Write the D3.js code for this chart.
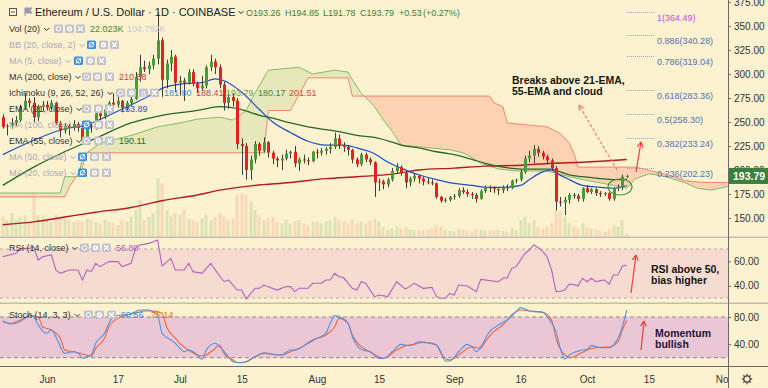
<!DOCTYPE html>
<html>
<head>
<meta charset="utf-8">
<script src="https://cdnjs.cloudflare.com/ajax/libs/d3/7.8.5/d3.min.js"></script>
<style>
  html, body { margin: 0; padding: 0; background: #fdf2cf; }
  svg { display: block; font-family: "Liberation Sans", Arial, sans-serif; }
</style>
</head>
<body>
<div id="chart"></div>
<script>
// ---- data ----
const startDate = '2019-05-22';

// daily candles [open, high, low, close], May 22 .. Oct 10
const candles = [
  [255,258,243,245],[245,248,236,246],[246,254,243,249],[249,256,246,252],[252,268,250,266],
  [266,280,263,272],[272,275,265,270],[270,276,250,255],[255,268,251,266],[266,272,261,268],
  [268,272,262,265],[265,273,262,270],[270,271,247,249],[249,251,234,241],[241,249,238,246],
  [246,248,236,244],[244,252,241,248],[248,250,240,244],[244,246,228,231],[231,248,229,246],
  [246,248,239,245],[245,262,242,259],[259,262,252,256],[256,268,253,263],[263,272,259,270],
  [270,280,262,268],[268,277,265,272],[272,273,260,265],[265,272,262,270],[270,280,267,274],
  [274,302,273,297],[297,320,292,307],[307,314,302,305],[305,313,300,309],[309,320,305,316],
  [316,364,310,335],[335,338,276,294],[294,315,285,311],[311,325,303,318],[318,320,281,291],
  [291,298,278,293],[293,296,272,291],[291,305,289,302],[302,305,287,290],[290,292,280,285],
  [285,298,283,288],[288,309,285,307],[307,320,303,313],[313,316,300,307],[307,310,285,289],
  [289,292,262,270],[270,280,264,276],[276,280,266,272],[272,275,222,227],[227,233,195,225],
  [225,228,190,200],[200,215,190,211],[211,230,207,227],[227,229,215,220],[220,234,218,229],
  [229,230,213,218],[218,220,206,212],[212,214,203,210],[210,216,200,212],[212,221,210,217],
  [217,220,212,219],[219,225,203,207],[207,213,199,211],[211,216,207,210],[210,213,205,209],
  [209,220,208,219],[219,222,212,218],[218,223,215,220],[220,224,216,222],[222,228,217,224],
  [224,239,222,233],[233,237,222,226],[226,229,219,224],[224,226,215,221],[221,222,207,211],
  [211,213,203,206],[206,218,204,216],[216,218,208,211],[211,213,205,208],[208,209,172,187],
  [187,191,178,188],[188,190,180,185],[185,192,182,190],[190,202,188,199],[199,207,196,203],
  [203,205,194,197],[197,198,181,187],[187,193,183,191],[191,196,188,194],[194,195,186,191],
  [191,193,184,188],[188,192,185,187],[187,190,184,186],[186,187,170,172],[172,173,166,168],
  [168,171,166,169],[169,173,167,172],[172,175,169,173],[173,181,171,179],[179,182,175,177],
  [177,180,172,175],[175,177,170,174],[174,176,166,170],[170,180,169,178],[178,184,176,182],
  [182,184,177,181],[181,183,176,180],[180,181,174,179],[179,184,176,182],[182,185,178,181],
  [181,190,180,189],[189,191,186,190],[190,200,188,198],[198,215,196,212],[212,220,208,215],
  [215,226,207,222],[222,225,214,218],[218,220,211,214],[214,216,207,210],[210,212,199,202],
  [202,204,158,167],[167,172,162,166],[166,172,153,169],[169,176,165,174],[174,176,170,173],
  [173,175,167,170],[170,182,167,181],[181,184,176,177],[177,181,175,180],[180,181,173,176],
  [176,178,172,175],[175,177,173,176],[176,177,168,170],[170,182,168,181],[181,185,178,182],
  [182,195,179,193],[193.26,194.85,191.78,193.79]
];

// daily volume, thousands of ETH
const volumes = [
  168,140,196,140,168,182,112,364,182,168,
  140,126,182,154,168,140,126,140,126,154,
  140,126,112,140,126,112,98,140,126,168,
  224,308,140,168,196,490,448,224,168,196,
  182,224,154,140,126,154,182,140,168,196,
  168,140,154,350,364,350,294,224,182,140,
  154,168,126,112,140,112,126,140,112,98,
  126,126,112,126,140,168,140,126,112,140,
  112,126,112,140,154,126,84,56,70,84,
  70,84,63,56,49,56,63,70,98,84,
  56,49,42,63,56,49,42,63,56,49,
  56,49,56,49,42,70,56,140,168,112,
  140,84,70,84,112,224,210,168,112,84,
  70,112,84,70,56,49,42,63,98,84,
  140,22.023
];

const ema21 = [['05-22',216],['05-29',231],['06-05',243],['06-10',247],['06-15',257],['06-20',268],
  ['06-24',277],['06-27',285],['07-02',290],['07-06',291],['07-09',295],['07-11',293],['07-15',281],
  ['07-19',263],['07-22',250],['07-26',239],['07-30',230],['08-03',226],['08-07',226],['08-10',223],
  ['08-14',217],['08-16',211],['08-18',206],['08-20',202],['08-24',195],['08-28',190],['09-01',186],
  ['09-05',184],['09-08',182],['09-12',182],['09-16',184],['09-18',190],['09-21',198],['09-23',200],
  ['09-24',197],['09-27',190],['09-30',184],['10-04',182],['10-07',181],['10-10',183.89]];

const ema55 = [['05-22',184],['05-29',203],['06-05',219],['06-12',233],['06-20',249],['06-27',257],
  ['07-05',262],['07-10',266],['07-15',263],['07-19',257],['07-22',254],['07-26',249],['07-30',245],
  ['08-03',242],['08-06',240],['08-10',236],['08-14',234],['08-18',229],['08-20',226],['08-24',223],
  ['08-28',219],['09-01',216],['09-05',211],['09-08',207],['09-12',203],['09-16',201],['09-20',201],
  ['09-23',201],['09-25',198],['09-27',195],['09-30',193],['10-04',191],['10-07',190],['10-10',190.11]];

const ma200 = [['05-22',143],['05-29',146],['06-05',151],['06-12',156],['06-20',161],['06-27',168],
  ['07-05',174],['07-10',179],['07-18',184],['07-26',187],['08-03',191],['08-10',193],['08-18',195.7],
  ['08-24',200],['09-01',202],['09-08',204],['09-16',205],['09-23',207],['09-30',208],['10-10',210.88]];

const spanA = [['05-21',176],['06-04',176],['06-05',193],['06-08',193],['06-09',212],['06-10',218],
  ['06-13',228],['06-20',236],['06-26',245],['07-01',249],['07-05',253],['07-10',255],['07-13',252],
  ['07-16',262],['07-18',280],['07-21',304],['07-28',307],['07-31',300],['08-05',304],['08-08',302],
  ['08-09',294],['08-11',280],['08-14',266],['08-16',252],['08-18',240],['08-20',226],['08-31',221],
  ['09-03',218],['09-05',213],['09-07',207],['09-11',201],['09-15',199],['09-22',199],['09-27',193],
  ['09-30',190],['10-07',184],['10-10',181],['10-12',191],['10-15',196],['10-18',194],['10-23',187],
  ['10-26',181],['10-29',179],['11-02',183],['11-04',183]];

const spanB = [['05-21',172],['06-05',172],['06-06',182],['06-09',203],['06-10',218],['07-20',218],
  ['07-21',262],['07-26',262],['07-30',296],['08-08',296],['08-09',277],['09-09',277],['09-10',270],
  ['09-12',266],['09-13',249],['09-22',245],['09-25',238],['09-27',228],['09-28',218],['09-29',203],
  ['10-12',203],['10-20',194],['10-23',189],['10-27',187],['11-04',187]];

const rsi = [['05-22',63.7],['05-25',66.5],['05-26',70.5],['05-28',70.5],['05-29',71.9],['05-30',61.0],
  ['05-31',63.7],['06-02',65.1],['06-03',52.9],['06-04',50.1],['06-06',52.9],['06-08',52.9],['06-09',44.7],
  ['06-10',52.9],['06-11',51.5],['06-12',58.3],['06-13',55.6],['06-15',59.7],['06-17',59.7],['06-18',55.6],
  ['06-20',58.3],['06-21',70.5],['06-22',73.3],['06-24',74.6],['06-25',76.0],['06-26',77.3],['06-27',56.1],
  ['06-29',62.4],['06-30',52.9],['07-02',52.9],['07-03',58.3],['07-04',51.5],['07-06',50.1],['07-08',58.3],
  ['07-09',52.9],['07-11',43.3],['07-12',44.7],['07-14',36.5],['07-15',36.5],['07-16',29.2],['07-18',37.9],
  ['07-19',37.9],['07-20',40.6],['07-23',36.5],['07-25',39.3],['07-26',39.3],['07-27',35.2],['07-28',37.9],
  ['07-30',37.9],['07-31',42.0],['08-02',42.0],['08-03',44.7],['08-04',44.7],['08-05',50.1],['08-06',47.4],
  ['08-07',46.7],['08-09',37.9],['08-10',36.5],['08-11',43.3],['08-12',42.0],['08-13',36.5],['08-14',31.1],
  ['08-15',32.4],['08-17',31.1],['08-19',43.3],['08-21',37.2],['08-23',42.0],['08-25',37.9],['08-27',38.7],
  ['08-28',31.1],['08-29',29.8],['08-30',29.8],['08-31',33.8],['09-01',32.4],['09-02',40.6],['09-04',39.8],
  ['09-06',35.2],['09-07',45.2],['09-11',43.3],['09-12',46.1],['09-13',46.6],['09-14',54.2],['09-15',55.6],
  ['09-17',66.5],['09-18',69.2],['09-19',73.3],['09-20',71.0],['09-21',68.0],['09-22',63.7],['09-23',52.9],
  ['09-24',35.2],['09-25',35.5],['09-26',36.5],['09-27',41.4],['09-28',40.9],['09-29',40.0],['09-30',46.1],
  ['10-01',43.3],['10-02',46.1],['10-03',43.3],['10-04',44.2],['10-05',44.7],['10-06',41.4],['10-07',48.8],
  ['10-08',48.8],['10-09',56.1],['10-10',56.8]];

const stochK = [['05-22',74.6],['05-24',69.7],['05-25',70.7],['05-27',78],['05-28',82.9],['05-29',80.4],
  ['05-30',68.2],['06-01',56],['06-02',60.8],['06-03',51],['06-05',26.4],['06-07',28.8],['06-08',27.4],
  ['06-09',19],['06-10',21.4],['06-11',24],['06-12',41.2],['06-14',56],['06-15',70.7],['06-16',80.4],
  ['06-18',82.9],['06-19',82.9],['06-21',87.9],['06-22',90.3],['06-24',90.3],['06-25',87.9],['06-26',82.9],
  ['06-27',56],['06-29',46.1],['06-30',41.2],['07-02',28.8],['07-03',31.3],['07-05',24],['07-06',17.6],
  ['07-07',31.3],['07-09',41.2],['07-10',36.2],['07-12',21.4],['07-13',14.1],['07-15',12.6],['07-16',14.1],
  ['07-18',21.4],['07-20',27.4],['07-21',26.4],['07-23',24],['07-24',24],['07-26',31.3],['07-27',31.3],
  ['07-30',41.2],['08-01',48.6],['08-03',56],['08-04',70.7],['08-05',82],['08-06',80.4],['08-08',70.7],
  ['08-09',51],['08-11',32.3],['08-12',30.3],['08-13',28.8],['08-15',19],['08-16',19],['08-18',28.8],
  ['08-20',39.7],['08-22',37.8],['08-24',43.6],['08-27',41.2],['08-28',38.7],['08-29',28.8],['08-30',15.1],
  ['08-31',15.1],['09-02',28.8],['09-04',39.7],['09-05',36.2],['09-06',28.8],['09-07',36.2],['09-09',58.4],
  ['09-11',68.2],['09-13',75.6],['09-15',87.9],['09-16',93.8],['09-18',88.9],['09-21',86.9],['09-22',80.5],
  ['09-24',58.4],['09-25',33.8],['09-26',18],['09-27',24],['09-30',31.3],['10-01',32.3],['10-02',37.8],
  ['10-04',34.8],['10-06',34.8],['10-07',38.7],['10-09',65.7],['10-10',90.56]];

const stochD = [['05-22',73.1],['05-24',70.7],['05-25',73.1],['05-27',78],['05-28',82],['05-30',80.4],
  ['05-31',65.7],['06-02',60.8],['06-04',48.6],['06-05',31.3],['06-07',28.8],['06-09',25.4],['06-11',22.4],
  ['06-12',33.8],['06-14',48.6],['06-15',65.7],['06-17',78],['06-19',82.9],['06-21',85.4],['06-23',88.9],
  ['06-25',88.9],['06-27',85.4],['06-28',65.7],['06-30',48.6],['07-01',41.2],['07-03',31.3],['07-06',22.4],
  ['07-07',24],['07-09',33.8],['07-10',38.7],['07-11',26.4],['07-13',16.6],['07-14',12.6],['07-16',14.1],
  ['07-18',21.4],['07-20',26.4],['07-24',24],['07-26',28.8],['07-28',33.8],['07-31',46.1],['08-03',53.5],
  ['08-05',65.7],['08-06',78],['08-08',70.7],['08-09',53.5],['08-11',36.2],['08-13',28.8],['08-16',19],
  ['08-19',31.3],['08-21',37.8],['08-23',39.7],['08-25',42.6],['08-28',38.7],['08-29',26.4],['08-31',16.6],
  ['09-02',24],['09-05',36.2],['09-07',33.8],['09-08',43.6],['09-10',58.4],['09-12',68.2],['09-14',83],
  ['09-16',90.3],['09-18',88.9],['09-21',86.9],['09-23',75.6],['09-24',48.6],['09-26',24],['09-27',20],
  ['09-30',27.9],['10-02',33.8],['10-04',35.3],['10-06',35.8],['10-08',43.6],['10-09',60.8],['10-10',75.14]];

const fibRatios = ['1', '0.886', '0.786', '0.618', '0.5', '0.382', '0.236'];
const fibPrices = [364.49, 340.28, 319.04, 283.36, 258.30, 233.24, 202.23];

const priceTicks = [150, 175, 200, 225, 250, 275, 300, 325, 350, 375];
const rsiTicks = [60, 40];
const stochTicks = [80, 40];
const timeTickDates = ['06-01','06-17','07-01','07-15','08-01','08-15','09-01','09-16','10-01','10-15','11-01'];
const timeTickLabels = ['Jun','17','Jul','15','Aug','15','Sep','16','Oct','15','Nov'];

// ---- drawing ----
const W = 768, H = 388, plotR = 728;
const parse = d3.timeParse('%Y-%m-%d');
const dt = s => parse('2019-' + s);
const pts = arr => arr.map(([d, v]) => ({ date: dt(d), v }));

const bars = candles.map((c, i) => ({
  date: d3.timeDay.offset(parse(startDate), i),
  o: c[0], h: c[1], l: c[2], c: c[3], vol: volumes[i]
}));

const x = d3.scaleTime().domain([dt('06-01'), dt('11-01')]).range([47, 47 + 153 * 4.426]);
const yMain = d3.scaleLinear().domain([150, 375]).range([218, 2]);
const yVol = d3.scaleLinear().domain([0, 520]).range([236.7, 174.7]);
const yRsi = d3.scaleLinear().domain([30, 70]).range([298, 249]);
const yStoch = d3.scaleLinear().domain([20, 80]).range([357.7, 317]);

const svg = d3.select('#chart').append('svg')
  .attr('width', W).attr('height', H)
  .style('background-color', '#fdf2cf');

const defs = svg.append('defs');
const clip = (id, x0, y0, w, h) => defs.append('clipPath').attr('id', id)
  .append('rect').attr('x', x0).attr('y', y0).attr('width', w).attr('height', h);
clip('cMain', 0, 0, plotR, 236.5);
clip('cRsi', 0, 238, plotR, 64.5);
clip('cStoch', 0, 304, plotR, 62.5);
clip('cTime', 0, 367, plotR, 21);

// indicator bands
svg.append('rect').attr('x', 0).attr('width', plotR)
  .attr('y', yRsi(70)).attr('height', yRsi(30) - yRsi(70)).attr('fill', '#f6dcd0');
svg.append('rect').attr('x', 0).attr('width', plotR)
  .attr('y', yStoch(80)).attr('height', yStoch(20) - yStoch(80)).attr('fill', '#ebc7d5');

const main = svg.append('g').attr('clip-path', 'url(#cMain)');

// ichimoku cloud
const A = pts(spanA), B = pts(spanB);
const below = d3.area().x(d => x(d.date)).y0(236.5).y1(d => yMain(d.v));
const above = d3.area().x(d => x(d.date)).y0(0).y1(d => yMain(d.v));
defs.append('clipPath').attr('id', 'aboveB').append('path').attr('d', above(B));
defs.append('clipPath').attr('id', 'aboveA').append('path').attr('d', above(A));
main.append('path').attr('d', below(A)).attr('clip-path', 'url(#aboveB)')
  .attr('fill', '#b5d08c').attr('fill-opacity', 0.3);
main.append('path').attr('d', below(B)).attr('clip-path', 'url(#aboveA)')
  .attr('fill', '#fb9e84').attr('fill-opacity', 0.38);
const lineMain = d3.line().x(d => x(d.date)).y(d => yMain(d.v));
main.append('path').attr('d', lineMain(A)).attr('fill', 'none').attr('stroke', '#84b96a').attr('stroke-width', 1);
main.append('path').attr('d', lineMain(B)).attr('fill', 'none').attr('stroke', '#f0866e').attr('stroke-width', 1);

// volume
main.selectAll('rect.vol').data(bars).join('rect')
  .attr('x', d => Math.round(x(d.date)) - 1.5).attr('width', 3)
  .attr('y', d => yVol(d.vol)).attr('height', d => yVol(0) - yVol(d.vol))
  .attr('fill', d => d.c >= d.o ? '#9cc279' : '#f0a585').attr('fill-opacity', 0.33);

// moving averages
const smooth = d3.line().x(d => x(d.date)).y(d => yMain(d.v)).curve(d3.curveMonotoneX);
main.append('path').attr('d', smooth(pts(ma200))).attr('fill', 'none').attr('stroke', '#b01c1c').attr('stroke-width', 1.4);
main.append('path').attr('d', smooth(pts(ema55))).attr('fill', 'none').attr('stroke', '#23682a').attr('stroke-width', 1.3);
main.append('path').attr('d', smooth(pts(ema21))).attr('fill', 'none').attr('stroke', '#1f4fc4').attr('stroke-width', 1.2);

// candles
main.selectAll('line.wick').data(bars).join('line')
  .attr('x1', d => Math.round(x(d.date)) + 0.5).attr('x2', d => Math.round(x(d.date)) + 0.5)
  .attr('y1', d => yMain(d.h)).attr('y2', d => yMain(d.l))
  .attr('stroke', '#3c3c3c').attr('stroke-width', 1);
main.selectAll('rect.body').data(bars).join('rect')
  .attr('x', d => Math.round(x(d.date)) - 1).attr('width', 3)
  .attr('y', d => yMain(Math.max(d.o, d.c)))
  .attr('height', d => Math.max(1, Math.abs(yMain(d.o) - yMain(d.c))))
  .attr('fill', d => d.c >= d.o ? '#4b9a3a' : '#e3231d');

// fibonacci levels
const fibX0 = 627, fibX1 = 654;
fibPrices.forEach((p, i) => {
  const y = Math.round(yMain(p)) + 0.5;
  const col = i === 0 ? '#c44fd4' : '#5271b4';
  svg.append('line').attr('x1', fibX0).attr('x2', fibX1).attr('y1', y).attr('y2', y)
    .attr('stroke', i === 0 ? '#d58ae0' : '#9aa6c4').attr('stroke-dasharray', '1,1');
  svg.append('text').attr('x', 657).attr('y', y + 8.5).attr('font-size', 9).attr('fill', col)
    .text(`${fibRatios[i]}(${p.toFixed(2)})`);
});

// RSI pane
const rsiG = svg.append('g').attr('clip-path', 'url(#cRsi)');
[70, 30].forEach(v => rsiG.append('line').attr('x1', 0).attr('x2', plotR)
  .attr('y1', yRsi(v)).attr('y2', yRsi(v)).attr('stroke', '#b9a9a3').attr('stroke-dasharray', '3,3'));
rsiG.append('path').attr('d', d3.line().x(d => x(d.date)).y(d => yRsi(d.v))(pts(rsi)))
  .attr('fill', 'none').attr('stroke', '#b55fc2').attr('stroke-width', 1.1);

// Stoch pane
const stG = svg.append('g').attr('clip-path', 'url(#cStoch)');
[80, 20].forEach(v => stG.append('line').attr('x1', 0).attr('x2', plotR)
  .attr('y1', yStoch(v)).attr('y2', yStoch(v)).attr('stroke', '#8e8686').attr('stroke-dasharray', '4,3'));
const stLine = d3.line().x(d => x(d.date)).y(d => yStoch(d.v)).curve(d3.curveMonotoneX);
stG.append('path').attr('d', stLine(pts(stochD))).attr('fill', 'none').attr('stroke', '#f2663a').attr('stroke-width', 1.1);
stG.append('path').attr('d', stLine(pts(stochK))).attr('fill', 'none').attr('stroke', '#4c93ea').attr('stroke-width', 1.1);

// pane separators and axis lines
svg.append('rect').attr('x', 0).attr('y', 236.5).attr('width', W).attr('height', 1.5).attr('fill', '#c4bcac');
svg.append('rect').attr('x', 0).attr('y', 302.5).attr('width', W).attr('height', 1.5).attr('fill', '#c4bcac');
svg.append('line').attr('x1', 0).attr('x2', W).attr('y1', 366.5).attr('y2', 366.5).attr('stroke', '#6a6a6a');
svg.append('line').attr('x1', plotR + 0.5).attr('x2', plotR + 0.5).attr('y1', 0).attr('y2', H).attr('stroke', '#6a6a6a');

// right axes
const styleAxis = g => {
  g.select('.domain').remove();
  g.selectAll('line').attr('stroke', '#6a6a6a');
  g.selectAll('text').attr('fill', '#333').attr('font-size', 10)
    .attr('font-family', '"Liberation Sans", Arial, sans-serif');
};
svg.append('g').attr('transform', `translate(${plotR},0)`)
  .call(d3.axisRight(yMain).tickValues(priceTicks).tickFormat(d3.format('.2f')).tickSize(3)).call(styleAxis);
svg.append('g').attr('transform', `translate(${plotR},0)`)
  .call(d3.axisRight(yRsi).tickValues(rsiTicks).tickFormat(d3.format('.2f')).tickSize(3)).call(styleAxis);
svg.append('g').attr('transform', `translate(${plotR},0)`)
  .call(d3.axisRight(yStoch).tickValues(stochTicks).tickFormat(d3.format('.2f')).tickSize(3)).call(styleAxis);

// last price tag
const last = bars[bars.length - 1];
const ly = yMain(last.c);
svg.append('rect').attr('x', plotR + 1).attr('y', ly - 8).attr('width', W - plotR - 1).attr('height', 16).attr('fill', '#3b7f3b');
svg.append('text').attr('x', plotR + 5).attr('y', ly + 4).attr('font-size', 10.5).attr('font-weight', 'bold')
  .attr('fill', '#fff').text(last.c.toFixed(2));

// time axis
svg.append('g').attr('clip-path', 'url(#cTime)').append('g')
  .attr('transform', 'translate(0,367)')
  .call(d3.axisBottom(x).tickValues(timeTickDates.map(dt)).tickFormat((d, i) => timeTickLabels[i])
    .tickSize(0).tickPadding(9))
  .call(styleAxis);

// settings gear
const gear = svg.append('g').attr('transform', 'translate(747,379)').attr('stroke', '#444').attr('fill', 'none');
gear.append('circle').attr('r', 3.2).attr('stroke-width', 1.2);
d3.range(8).forEach(k => {
  const a = k * Math.PI / 4;
  gear.append('line').attr('x1', Math.cos(a) * 3.4).attr('y1', Math.sin(a) * 3.4)
    .attr('x2', Math.cos(a) * 5.2).attr('y2', Math.sin(a) * 5.2).attr('stroke-width', 1.3);
});

// annotations
const arrow = (x1, y1, x2, y2, color, dash) => {
  svg.append('line').attr('x1', x1).attr('y1', y1).attr('x2', x2).attr('y2', y2)
    .attr('stroke', color).attr('stroke-width', 1.2).attr('stroke-dasharray', dash || null);
  const ang = Math.atan2(y2 - y1, x2 - x1);
  [-0.5, 0.5].forEach(da => {
    const a = ang + Math.PI + da;
    svg.append('line').attr('x1', x2).attr('y1', y2)
      .attr('x2', x2 + Math.cos(a) * 6).attr('y2', y2 + Math.sin(a) * 6)
      .attr('stroke', color).attr('stroke-width', 1.2);
  });
};
arrow(617, 170, 579, 105, '#f27b7b', '3,2');
arrow(636, 172, 641, 142, '#ef3b3b');
arrow(631, 293, 636, 255, '#ef3b3b');
arrow(641, 350, 644, 321, '#ef3b3b');
svg.append('ellipse').attr('cx', 620).attr('cy', 187).attr('rx', 12).attr('ry', 8)
  .attr('fill', 'none').attr('stroke', '#3f9a3f').attr('stroke-width', 1.2);

const note = (x0, y0, lines, color) => lines.forEach((t, i) =>
  svg.append('text').attr('x', x0).attr('y', y0 + i * 11).attr('font-size', 10.5)
    .attr('font-weight', 'bold').attr('fill', color).text(t));
note(512, 84, ['Breaks above 21-EMA,', '55-EMA and cloud'], '#151515');
note(651, 273, ['RSI above 50,', 'bias higher'], '#151515');
note(655, 337, ['Momentum', 'bullish'], '#1b1636');

// legend
const icon = (x0, yb, kind, blue) => {
  const g = svg.append('g').attr('transform', `translate(${x0},${yb - 7.5})`);
  g.append('rect').attr('width', 9).attr('height', 8.5).attr('rx', 1.5).attr('fill', blue ? '#3b8de6' : '#c3c3cd');
  if (kind === 'eye') {
    g.append('circle').attr('cx', 4.5).attr('cy', 4.25).attr('r', 2.3).attr('fill', 'none').attr('stroke', '#fff').attr('stroke-width', 1);
    if (blue) g.append('line').attr('x1', 2).attr('y1', 7).attr('x2', 7).attr('y2', 1.5).attr('stroke', '#fff');
  } else if (kind === 'gear') {
    g.append('circle').attr('cx', 4.5).attr('cy', 4.25).attr('r', 2.6).attr('fill', '#fff');
    g.append('circle').attr('cx', 4.5).attr('cy', 4.25).attr('r', 1).attr('fill', '#c3c3cd');
  } else if (kind === 'x') {
    g.append('path').attr('d', 'M2.2,2 L6.8,6.5 M6.8,2 L2.2,6.5').attr('stroke', '#fff').attr('stroke-width', 1.3);
  } else {
    g.append('text').attr('x', 4.5).attr('y', 7).attr('text-anchor', 'middle').attr('font-size', 7)
      .attr('fill', '#fff').text('{}');
  }
};
const chevron = (x0, yb, color) => svg.append('path')
  .attr('d', `M${x0},${yb - 4} L${x0 + 2.5},${yb - 1.5} L${x0 + 5},${yb - 4}`)
  .attr('fill', 'none').attr('stroke', color).attr('stroke-width', 1);

const legendRow = (name, yb, on, icons, vals) => {
  const t = svg.append('text').attr('x', 9).attr('y', yb).attr('font-size', 9)
    .attr('fill', on ? '#333' : '#a9a9b9').text(name);
  chevron(9 + t.node().getComputedTextLength() + 4, yb, on ? '#333' : '#a9a9b9');
  icons.forEach(([ix, kind, blue]) => icon(ix, yb, kind, blue));
  vals.forEach(([vx, txt, col]) => svg.append('text').attr('x', vx).attr('y', yb)
    .attr('font-size', 9).attr('fill', col).text(txt));
};
legendRow('Vol (20)', 32, true, [[54, 'eye'], [65, 'gear'], [76, 'x']],
  [[90, '22.023K', '#3b8b3b'], [127, '104.782K', '#c6c6dc']]);
legendRow('BB (20, close, 2)', 48, false, [[87, 'eye', true], [99, 'gear'], [110, 'x']], []);
legendRow('MA (5, close)', 64, false, [[74, 'eye', true], [86, 'gear'], [97, 'x']], []);
legendRow('MA (200, close)', 80, true, [[82, 'eye'], [93, 'gear'], [105, 'x']], [[119, '210.88', '#c24444']]);
legendRow('Ichimoku (9, 26, 52, 26)', 96, true, [[116, 'eye'], [127, 'gear'], [139, 'br'], [150, 'x']],
  [[164, '181.80', '#2f95e6'], [196, '188.41', '#b04a4a'], [226, '193.79', '#5aa042'],
   [258, '180.17', '#3b8b3b'], [289, '201.51', '#e24242']]);
legendRow('EMA (21, close)', 112, true, [[82, 'eye'], [94, 'gear'], [105, 'x']], [[120, '183.89', '#2a52b4']]);
legendRow('MA (100, close)', 128, false, [[82, 'eye', true], [94, 'gear'], [105, 'x']], []);
legendRow('EMA (55, close)', 144, true, [[82, 'eye'], [94, 'gear'], [105, 'x']], [[119, '190.11', '#2b6b2b']]);
legendRow('MA (50, close)', 160, false, [[78, 'eye', true], [90, 'gear'], [102, 'x']], []);
legendRow('MA (20, close)', 176, false, [[78, 'eye', true], [90, 'gear'], [102, 'x']], []);
legendRow('RSI (14, close)', 251, true, [[80, 'eye'], [91, 'gear'], [102, 'x']], [[116, '56.80', '#b055c0']]);
legendRow('Stoch (14, 3, 3)', 318, true, [[84, 'eye'], [95, 'gear'], [107, 'x']],
  [[121, '90.56', '#3a90e0'], [151, '75.14', '#f07020']]);

// title line
svg.append('rect').attr('x', 9.5).attr('y', 8.5).attr('width', 7).attr('height', 7)
  .attr('fill', 'none').attr('stroke', '#555');
svg.append('line').attr('x1', 11).attr('x2', 15).attr('y1', 12).attr('y2', 12).attr('stroke', '#555');
svg.append('path').attr('d', 'M25,8 L25,16 M25,8 L32,8 L30,10.5 L32,13 L25,13').attr('fill', '#9a9aa8').attr('stroke', '#9a9aa8');
const title = svg.append('text').attr('x', 35).attr('y', 16).attr('font-size', 11).attr('fill', '#222')
  .text('Ethereum / U.S. Dollar · 1D · COINBASE');
chevron(35 + title.node().getComputedTextLength() + 3, 15, '#222');
const ohlc = [[246, 'O193.26'], [285, 'H194.85'], [323, 'L191.78'], [360, 'C193.79'], [399, '+0.53'], [423, '(+0.27%)']];
ohlc.forEach(([ox, t]) => svg.append('text').attr('x', ox).attr('y', 16).attr('font-size', 9)
  .attr('fill', '#3b7d3b').text(t));
</script>
</body>
</html>
